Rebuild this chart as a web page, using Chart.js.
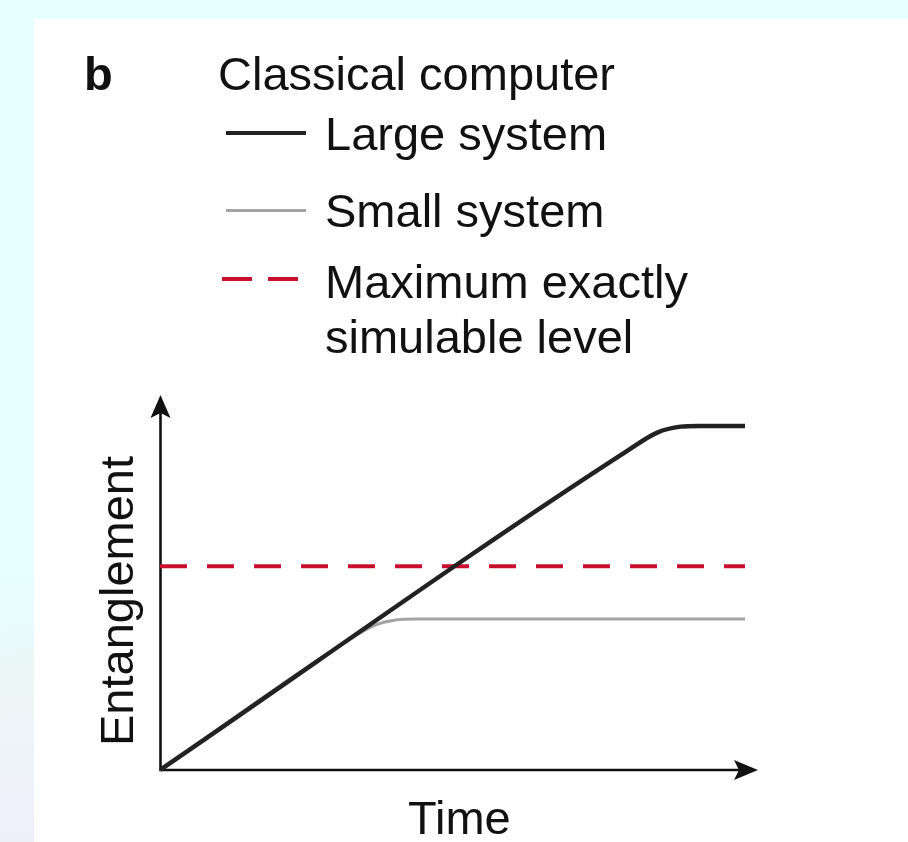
<!DOCTYPE html>
<html>
<head>
<meta charset="utf-8">
<script src="https://cdn.jsdelivr.net/npm/chart.js@4"></script>
<style>
  html, body { margin: 0; padding: 0; }
  body {
    width: 908px; height: 842px; position: relative; overflow: hidden;
    background: linear-gradient(175deg, #e6ffff 0%, #e6ffff 62%, #edf6f6 75%, #eff0fa 88%, #eceef4 100%);
    font-family: "Liberation Sans", Arial, sans-serif; color: #111;
  }
  #panel { position: absolute; left: 34px; top: 19px; width: 874px; height: 823px; background: #fff; }
  #chartBox { position: absolute; left: 0; top: 0; width: 908px; height: 842px; }
  .txt { position: absolute; font-size: 47px; line-height: 47px; white-space: nowrap; }
  .key { position: absolute; }
</style>
</head>
<body>
<div id="panel"></div>
<div id="chartBox"><canvas id="entChart"></canvas></div>

<div class="txt" style="left:84px; top:50px; font-weight:bold;">b</div>
<div class="txt" style="left:218px; top:50px;">Classical computer</div>
<div class="txt" style="left:325px; top:110px;">Large system</div>
<div class="txt" style="left:325px; top:187px;">Small system</div>
<div class="txt" style="left:325px; top:258px;">Maximum exactly</div>
<div class="txt" style="left:325px; top:313px;">simulable level</div>
<div class="txt" style="left:408px; top:794px;">Time</div>
<div class="txt" style="left:93px; top:746px; transform-origin:0 0; transform:rotate(-90deg);">Entanglement</div>

<div class="key" style="left:226px; top:131px; width:80px; height:4px; background:#222;"></div>
<div class="key" style="left:226px; top:209px; width:80px; height:3px; background:#a3a3a3;"></div>
<div class="key" style="left:222px; top:277px; width:30px; height:4px; background:#c8102e;"></div>
<div class="key" style="left:268px; top:277px; width:30px; height:4px; background:#c8102e;"></div>

<script>
// time axis runs 0..100, entanglement 0..100 (arbitrary units)
const largeTime = [0, 80, 85, 89, 92, 100];
const largeEnt  = [0, 86.4, 91.2, 92.8, 93, 93];
const smallTime = [0, 34, 37, 40, 44, 100];
const smallEnt  = [0, 36.8, 39.3, 40.5, 40.8, 40.8];
const limitTime = [0, 100];
const limitEnt  = [55.1, 55.1];

const toPoints = (xs, ys) => xs.map((x, i) => ({ x: x, y: ys[i] }));

// axis lines with arrow heads
const arrowAxes = {
    id: 'arrowAxes',
    beforeDatasetsDraw(chart) {
        const { ctx, chartArea: a } = chart;
        const ox = a.left + 0.5, oy = a.bottom;
        ctx.save();
        ctx.strokeStyle = '#111';
        ctx.fillStyle = '#111';
        ctx.lineWidth = 2.6;
        ctx.beginPath();
        ctx.moveTo(ox, oy);
        ctx.lineTo(ox, a.top - 2);
        ctx.moveTo(ox - 1.3, oy);
        ctx.lineTo(a.right + 6, oy);
        ctx.stroke();

        // up arrow
        const ty = a.top - 5;
        ctx.beginPath();
        ctx.moveTo(ox, ty);
        ctx.lineTo(ox + 10, ty + 23);
        ctx.lineTo(ox, ty + 18);
        ctx.lineTo(ox - 10, ty + 23);
        ctx.closePath();
        ctx.fill();

        // right arrow
        const tx = a.right + 13;
        ctx.beginPath();
        ctx.moveTo(tx, oy);
        ctx.lineTo(tx - 24, oy - 10);
        ctx.lineTo(tx - 19, oy);
        ctx.lineTo(tx - 24, oy + 10);
        ctx.closePath();
        ctx.fill();
        ctx.restore();
    }
};

new Chart(document.getElementById('entChart'), {
    type: 'line',
    data: {
        datasets: [{
            label: 'Large system',
            data: toPoints(largeTime, largeEnt),
            borderColor: '#222',
            borderWidth: 4.5,
            cubicInterpolationMode: 'monotone'
        }, {
            label: 'Maximum exactly simulable level',
            data: toPoints(limitTime, limitEnt),
            borderColor: '#c8102e',
            borderWidth: 4,
            borderDash: [27, 20],
            tension: 0
        }, {
            label: 'Small system',
            data: toPoints(smallTime, smallEnt),
            borderColor: '#a3a3a3',
            borderWidth: 3,
            cubicInterpolationMode: 'monotone'
        }]
    },
    options: {
        responsive: true,
        maintainAspectRatio: false,
        animation: false,
        events: [],
        layout: { padding: { left: 160, right: 163, top: 400, bottom: 72 } },
        elements: { point: { radius: 0 } },
        datasets: { line: { clip: false, fill: false } },
        scales: {
            x: { type: 'linear', min: 0, max: 100, display: false },
            y: { type: 'linear', min: 0, max: 100, display: false }
        },
        plugins: { legend: { display: false }, tooltip: { enabled: false } }
    },
    plugins: [arrowAxes]
});
</script>
</body>
</html>
